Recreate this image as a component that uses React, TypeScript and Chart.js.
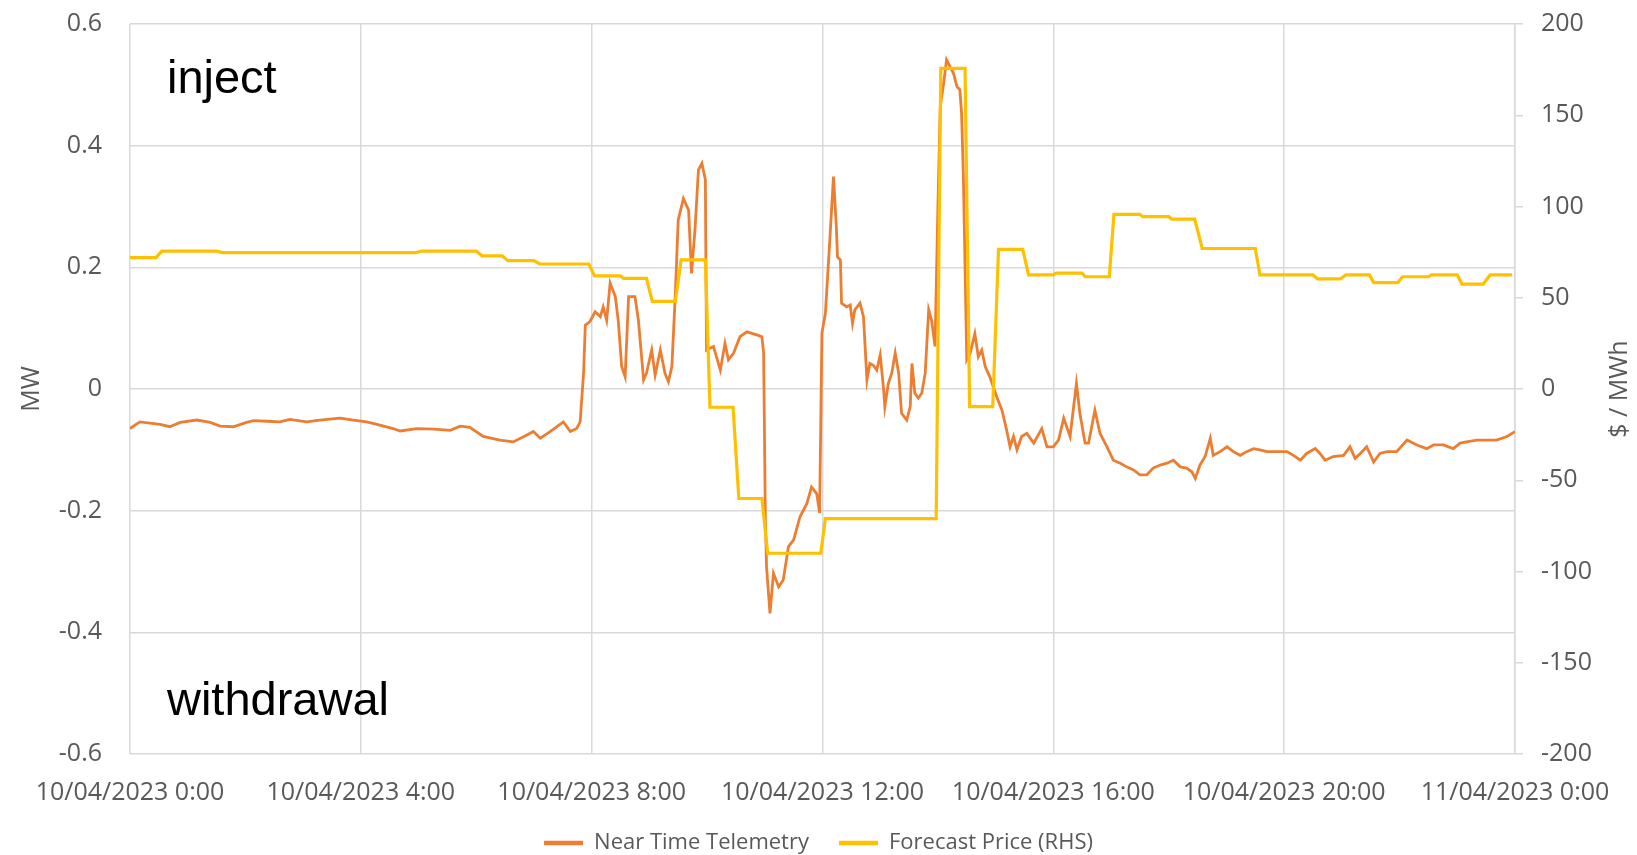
import React, { useEffect, useRef } from 'react';
import { Chart, registerables } from 'chart.js';

Chart.register(...registerables);

// X axis: hours since 10/04/2023 0:00
const xTickLabels = [
  '10/04/2023 0:00',
  '10/04/2023 4:00',
  '10/04/2023 8:00',
  '10/04/2023 12:00',
  '10/04/2023 16:00',
  '10/04/2023 20:00',
  '11/04/2023 0:00',
];

const seriesNames = ['Near Time Telemetry', 'Forecast Price (RHS)'];

// Near Time Telemetry (MW, left axis)
const telemetryHours = [
  0.0, 0.17, 0.52, 0.69, 0.87, 1.16, 1.39, 1.56, 1.79, 2.02, 2.14, 2.37, 2.6, 2.77, 3.06, 3.29, 3.64, 3.87,
  4.1, 4.28, 4.56, 4.68, 4.97, 5.26, 5.55, 5.72, 5.89, 6.12, 6.41, 6.64, 6.87, 6.99, 7.11, 7.28, 7.51, 7.63,
  7.74, 7.8, 7.86, 7.89, 7.97, 8.06, 8.15, 8.2, 8.26, 8.32, 8.41, 8.46, 8.52, 8.58, 8.64, 8.75, 8.81, 8.9,
  8.95, 9.04, 9.1, 9.19, 9.27, 9.33, 9.39, 9.45, 9.5, 9.59, 9.68, 9.73, 9.79, 9.85, 9.91, 9.97, 9.99, 10.11,
  10.23, 10.31, 10.37, 10.46, 10.57, 10.69, 10.86, 10.95, 10.98, 11.01, 11.03, 11.09, 11.15, 11.24, 11.32,
  11.41, 11.5, 11.61, 11.73, 11.81, 11.9, 11.95, 11.99, 12.05, 12.13, 12.19, 12.24, 12.26, 12.31, 12.33,
  12.42, 12.48, 12.52, 12.56, 12.65, 12.71, 12.77, 12.82, 12.88, 12.94, 13.0, 13.06, 13.08, 13.14, 13.2,
  13.26, 13.32, 13.37, 13.46, 13.52, 13.55, 13.6, 13.66, 13.72, 13.78, 13.84, 13.89, 13.95, 14.0, 14.04,
  14.1, 14.15, 14.21, 14.27, 14.33, 14.38, 14.41, 14.44, 14.5, 14.56, 14.64, 14.7, 14.76, 14.82, 14.9,
  15.02, 15.11, 15.19, 15.25, 15.31, 15.37, 15.45, 15.54, 15.66, 15.8, 15.89, 16.0, 16.09, 16.18, 16.29,
  16.4, 16.46, 16.55, 16.61, 16.72, 16.81, 16.93, 17.04, 17.16, 17.27, 17.39, 17.5, 17.62, 17.73, 17.85,
  17.97, 18.08, 18.2, 18.31, 18.4, 18.46, 18.54, 18.63, 18.72, 18.77, 18.89, 19.01, 19.12, 19.24, 19.35,
  19.47, 19.58, 19.7, 19.87, 20.05, 20.16, 20.28, 20.39, 20.54, 20.62, 20.71, 20.85, 21.03, 21.14, 21.23,
  21.32, 21.43, 21.55, 21.66, 21.78, 21.95, 22.13, 22.3, 22.47, 22.59, 22.76, 22.93, 23.05, 23.16, 23.34,
  23.51, 23.68, 23.86, 24.0,
];
const telemetryMW = [
  -0.065, -0.054, -0.058, -0.062, -0.055, -0.051, -0.055, -0.061, -0.062, -0.055, -0.052, -0.053, -0.054,
  -0.05, -0.054, -0.051, -0.048, -0.051, -0.054, -0.058, -0.065, -0.069, -0.065, -0.066, -0.068, -0.061,
  -0.063, -0.078, -0.084, -0.087, -0.076, -0.07, -0.081, -0.07, -0.054, -0.07, -0.065, -0.054, 0.026,
  0.105, 0.111, 0.127, 0.119, 0.135, 0.113, 0.174, 0.152, 0.113, 0.037, 0.02, 0.152, 0.152, 0.113, 0.015,
  0.026, 0.064, 0.023, 0.064, 0.026, 0.012, 0.037, 0.157, 0.278, 0.313, 0.294, 0.19, 0.261, 0.36, 0.371,
  0.344, 0.064, 0.07, 0.031, 0.075, 0.048, 0.059, 0.086, 0.094, 0.089, 0.086, 0.059, -0.215, -0.292,
  -0.369, -0.303, -0.325, -0.314, -0.259, -0.248, -0.21, -0.188, -0.161, -0.172, -0.204, 0.092, 0.124,
  0.25, 0.349, 0.267, 0.217, 0.212, 0.141, 0.135, 0.138, 0.108, 0.13, 0.141, 0.119, 0.015, 0.042, 0.039,
  0.031, 0.056, -0.002, -0.029, 0.009, 0.026, 0.059, 0.026, -0.04, -0.051, -0.029, 0.042, -0.007, -0.015,
  -0.007, 0.026, 0.13, 0.113, 0.07, 0.3, 0.464, 0.503, 0.541, 0.53, 0.519, 0.497, 0.492, 0.453, 0.355,
  0.048, 0.059, 0.091, 0.053, 0.064, 0.037, 0.02, -0.013, -0.035, -0.067, -0.095, -0.078, -0.1, -0.078,
  -0.073, -0.089, -0.065, -0.095, -0.095, -0.084, -0.048, -0.078, 0.009, -0.04, -0.089, -0.089, -0.035,
  -0.073, -0.095, -0.117, -0.122, -0.128, -0.133, -0.141, -0.141, -0.13, -0.125, -0.122, -0.117, -0.128,
  -0.13, -0.136, -0.147, -0.125, -0.111, -0.081, -0.109, -0.103, -0.095, -0.103, -0.109, -0.103, -0.098,
  -0.1, -0.103, -0.103, -0.103, -0.109, -0.117, -0.106, -0.098, -0.106, -0.117, -0.111, -0.109, -0.095,
  -0.114, -0.106, -0.095, -0.12, -0.106, -0.103, -0.103, -0.084, -0.092, -0.098, -0.092, -0.092, -0.098,
  -0.089, -0.087, -0.084, -0.084, -0.084, -0.078, -0.07,
];

// Forecast Price ($/MWh, right axis)
const priceHours = [
  0.0, 0.45, 0.55, 1.5, 1.6, 4.95, 5.05, 6.0, 6.1, 6.45, 6.55, 7.0, 7.1, 7.95, 8.05, 8.5, 8.55, 8.95,
  9.05, 9.45, 9.55, 9.97, 10.05, 10.45, 10.55, 10.95, 11.05, 11.97, 12.05, 13.97, 14.05, 14.47, 14.55,
  14.95, 15.05, 15.47, 15.57, 16.0, 16.05, 16.5, 16.55, 16.97, 17.05, 17.5, 17.55, 18.0, 18.05, 18.45,
  18.58, 19.5, 19.58, 20.5, 20.58, 20.97, 21.07, 21.48, 21.55, 21.97, 22.05, 22.5, 22.55, 23.0, 23.08,
  23.45, 23.57, 23.95,
];
const priceValues = [
  72, 72, 75.5, 75.5, 74.7, 74.7, 75.6, 75.6, 73, 73, 70.3, 70.3, 68.5, 68.5, 62, 62, 60.6, 60.6,
  48, 48, 70.7, 70.7, -10, -10, -60, -60, -90, -90, -71, -71, 175.7, 175.7, -9.7,
  -9.7, 76.5, 76.5, 62.5, 62.5, 63.5, 63.5, 61.5, 61.5, 95.7, 95.7, 94.4, 94.4, 93.1, 93.1,
  77, 77, 62.5, 62.5, 60.3, 60.3, 62.5, 62.5, 58.3, 58.3, 61.5, 61.5, 62.5, 62.5, 57.5,
  57.5, 62.5, 62.5,
];

// In-chart annotations (position given in data units: hours, MW)
const annotationTexts = ['inject', 'withdrawal'];
const annotationHours = [0.64, 0.64];
const annotationMW = [0.487, -0.536];

const rightAxisTitle = '$ / MWh';

export default function App() {
  const canvasRef = useRef<HTMLCanvasElement>(null);

  useEffect(() => {
    const canvas = canvasRef.current;
    if (!canvas) return;
    const font = "'Open Sans', sans-serif";
    const grey = '#595959';
    const gridColor = '#d9d9d9';

    const telemetry = telemetryHours.map((h, i) => ({ x: h, y: telemetryMW[i] }));
    const price = priceHours.map((h, i) => ({ x: h, y: priceValues[i] }));

    const extraText = {
      id: 'extraText',
      afterDraw(chart: any) {
        const ctx = chart.ctx;
        const xs = chart.scales.x;
        const ys = chart.scales.y;
        const y1 = chart.scales.y1;
        ctx.save();
        ctx.fillStyle = '#000000';
        ctx.font = "47px 'Liberation Sans', Arial, sans-serif";
        ctx.textAlign = 'left';
        ctx.textBaseline = 'alphabetic';
        annotationTexts.forEach((t, i) => {
          ctx.fillText(t, xs.getPixelForValue(annotationHours[i]), ys.getPixelForValue(annotationMW[i]));
        });
        ctx.restore();

        ctx.save();
        ctx.fillStyle = grey;
        ctx.font = `25px ${font}`;
        ctx.textAlign = 'center';
        ctx.textBaseline = 'middle';
        ctx.translate(y1.left + 105, (chart.chartArea.top + chart.chartArea.bottom) / 2);
        ctx.rotate(-Math.PI / 2);
        ctx.fillText(rightAxisTitle, 0, 0);
        ctx.restore();
      },
    };

    const defaultLabels = (Chart as any).defaults.plugins.legend.labels.generateLabels;

    const chart = new Chart(canvas, {
      type: 'line',
      data: {
        datasets: [
          {
            label: seriesNames[0],
            data: telemetry,
            yAxisID: 'y',
            borderColor: '#ED7D31',
            backgroundColor: '#ED7D31',
            borderWidth: 2.8,
            pointRadius: 0,
            pointStyle: 'line',
            tension: 0,
            order: 1,
          },
          {
            label: seriesNames[1],
            data: price,
            yAxisID: 'y1',
            borderColor: '#FFC000',
            backgroundColor: '#FFC000',
            borderWidth: 3.2,
            pointRadius: 0,
            pointStyle: 'line',
            tension: 0,
            order: 0,
          },
        ],
      },
      options: {
        animation: false,
        responsive: false,
        maintainAspectRatio: false,
        layout: { padding: { top: 24, right: 0, left: 0, bottom: 0 } },
        plugins: {
          tooltip: { enabled: false },
          legend: {
            position: 'bottom',
            maxHeight: 53,
            labels: {
              usePointStyle: true,
              pointStyleWidth: 39,
              padding: 30,
              color: grey,
              font: { family: font, size: 22 },
              sort: (a: any, b: any) => a.datasetIndex - b.datasetIndex,
              generateLabels: (c: any) =>
                defaultLabels(c).map((l: any) => ({ ...l, lineWidth: 4.5 })),
            },
          },
        },
        scales: {
          x: {
            type: 'linear',
            position: 'bottom',
            min: 0,
            max: 24,
            ticks: {
              stepSize: 4,
              autoSkip: false,
              maxRotation: 0,
              padding: 24,
              color: grey,
              font: { family: font, size: 25 },
              callback: (v: any) => xTickLabels[Math.round(Number(v) / 4)] ?? '',
            },
            grid: { color: gridColor, lineWidth: 1.5, drawTicks: false },
            border: { display: false },
            afterFit: (s: any) => {
              s.height = 48;
            },
          },
          y: {
            type: 'linear',
            position: 'left',
            min: -0.6,
            max: 0.6,
            ticks: {
              stepSize: 0.2,
              padding: 28,
              color: grey,
              font: { family: font, size: 25 },
              callback: (v: any) => (Math.abs(Number(v)) < 1e-9 ? '0' : Number(v).toFixed(1)),
            },
            grid: { color: gridColor, lineWidth: 1.5, drawTicks: false },
            border: { display: false },
            title: {
              display: true,
              text: 'MW',
              color: grey,
              font: { family: font, size: 25 },
              padding: { top: 17, bottom: 0 },
            },
            afterFit: (s: any) => {
              s.width = 130;
              s.paddingTop = 0;
              s.paddingBottom = 0;
            },
          },
          y1: {
            type: 'linear',
            position: 'right',
            min: -200,
            max: 200,
            ticks: {
              stepSize: 50,
              padding: 18,
              color: grey,
              font: { family: font, size: 25 },
            },
            grid: { drawOnChartArea: false, color: gridColor, lineWidth: 1.5, tickLength: 8 },
            border: { display: true, color: gridColor, width: 1.5 },
            afterFit: (s: any) => {
              s.width = 122;
              s.paddingTop = 0;
              s.paddingBottom = 0;
            },
          },
        },
      },
      plugins: [extraText],
    } as any);

    return () => chart.destroy();
  }, []);

  return (
    <div style={{ position: 'fixed', left: 0, top: 0, width: 1637, height: 855, background: '#ffffff' }}>
      <canvas ref={canvasRef} width={1637} height={855} style={{ display: 'block' }} />
    </div>
  );
}
